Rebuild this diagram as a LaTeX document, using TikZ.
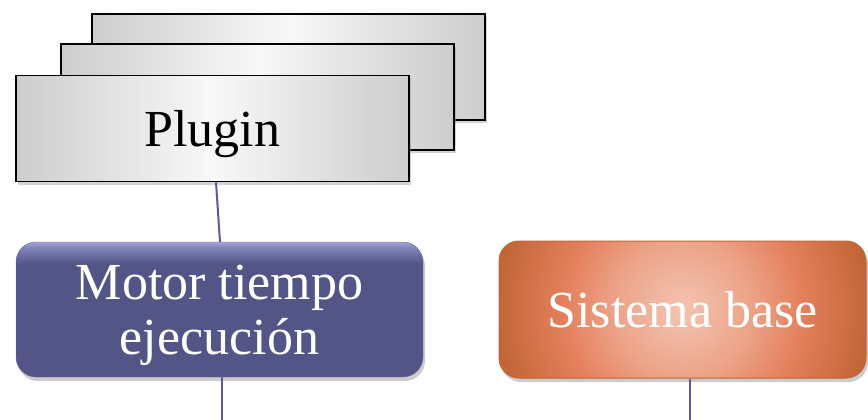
\documentclass[tikz,border=0pt]{standalone}
\usepackage{fontspec}
\setmainfont{Liberation Serif}
\usetikzlibrary{positioning, shadows}
\definecolor{plugGray}{HTML}{CDCDCD}
\definecolor{plugLight}{HTML}{F8F8F8}
\definecolor{motorBlue}{HTML}{545587}
\definecolor{motorTop}{HTML}{A3A5DC}
\definecolor{baseEdge}{HTML}{C36637}
\definecolor{baseMid}{HTML}{E4805C}
\definecolor{baseLight}{HTML}{ECA287}
\definecolor{baseCenter}{HTML}{F3C4B2}
\definecolor{linkBlue}{HTML}{5A5B9E}
\pgfdeclareverticalshading{motorShade}{100bp}{color(0bp)=(motorBlue);
  color(67bp)=(motorBlue); color(73bp)=(motorTop!60!motorBlue);
  color(75bp)=(motorTop); color(100bp)=(motorTop)}
\pgfdeclareradialshading{baseShade}{\pgfpoint{0bp}{0bp}}{color(0bp)=(baseCenter);
  color(9.5bp)=(baseLight); color(16bp)=(baseMid); color(25bp)=(baseEdge);
  color(50bp)=(baseEdge)}

\begin{document}
\begin{tikzpicture}[x=1pt, y=-1pt,
    plug/.style={rectangle, draw=black, line width=1.5pt, minimum width=393pt,
                 minimum height=106pt, left color=plugGray, right color=plugGray,
                 middle color=plugLight, drop shadow={opacity=0.35, shadow xshift=2pt,
                 shadow yshift=-3pt}, text depth=0pt, font=\fontsize{52}{55}\selectfont},
    block/.style={rectangle, rounded corners=20pt, text=white, align=center,
                  drop shadow={opacity=0.4, shadow xshift=2pt, shadow yshift=-4pt},
                  text depth=0pt, font=\fontsize{52}{55}\selectfont},
    link/.style={line width=2pt, linkBlue}
  ]
    \useasboundingbox (0,0) rectangle (868,420);

    % pila de plugins
    \node[plug] (plugin3) at (288.5,67) {};
    \node[plug] (plugin2) at (257.5,97) {};
    \node[plug] (plugin) at (212.5,128.5) {Plugin};

    \node[block, minimum width=407pt, minimum height=135pt, shading=motorShade,
          draw=motorBlue!85] (motor) at (219.5,309.5) {Motor tiempo\\ejecución};
    \node[block, minimum width=367pt, minimum height=137pt, fill=baseEdge,
          draw=baseEdge, line width=1pt,
          path picture={\shade[shading=baseShade]
            (path picture bounding box.center) circle (185pt);}]
      (sistema) at (682.5,309.5) {Sistema base};

    \coordinate (motorEnd) at (221.5,420);
    \coordinate (sistemaEnd) at (690,420);

    \draw[link] ([xshift=3.5pt]plugin.south) -- ([xshift=0.5pt]motor.north);
    \draw[link] (motor.south -| motorEnd) -- (motorEnd);
    \draw[link] (sistema.south -| sistemaEnd) -- (sistemaEnd);
  \end{tikzpicture}
\end{document}
